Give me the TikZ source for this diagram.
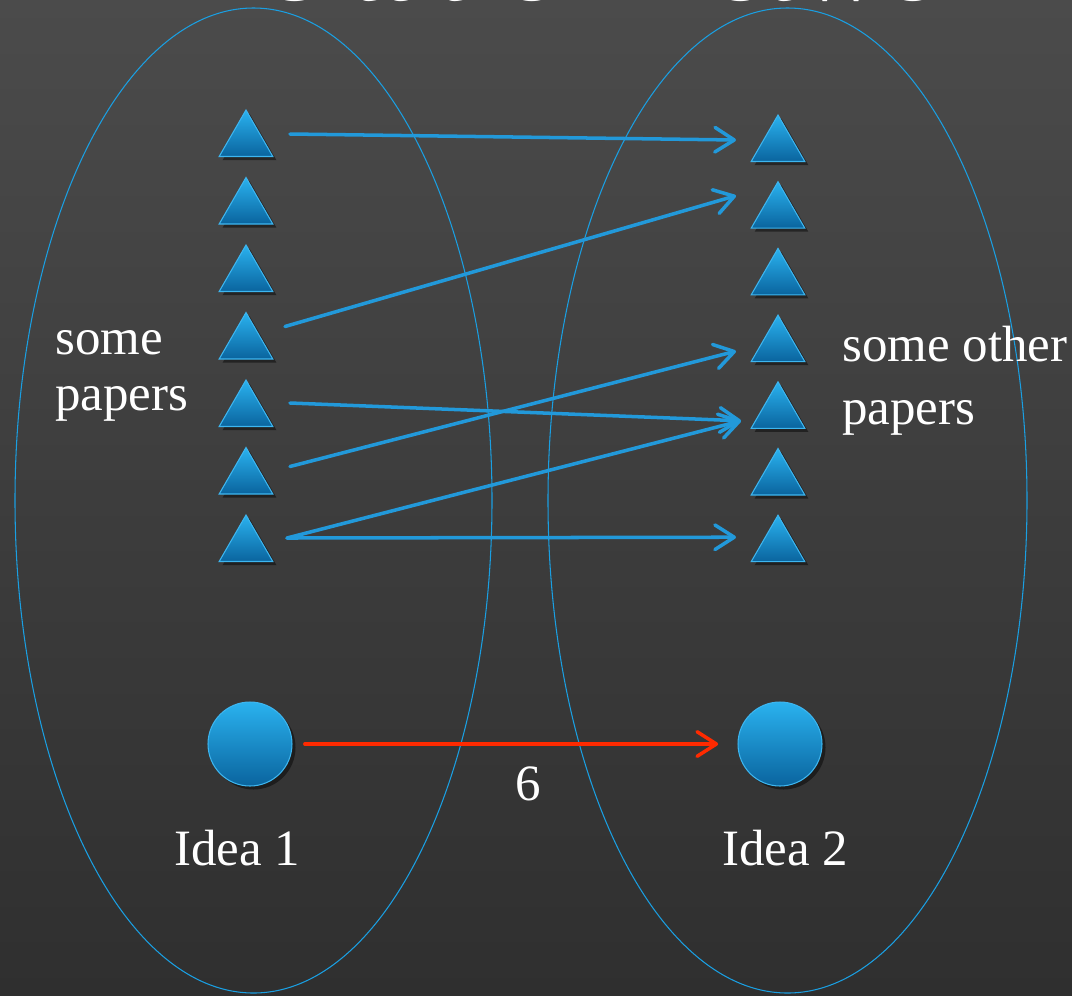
\documentclass[tikz,border=0pt]{standalone}
\usepackage{fontspec}
\setmainfont{Liberation Serif}
\usetikzlibrary{arrows.meta,shapes.geometric,positioning,calc,shadows}

\definecolor{bgtop}{HTML}{4B4B4B}
\definecolor{bgbot}{HTML}{2F2F2F}
\definecolor{ringblue}{HTML}{1A9FE2}
\definecolor{linkblue}{HTML}{2299DA}
\definecolor{paperhi}{HTML}{2AB2EF}
\definecolor{paperlo}{HTML}{0A649E}
\definecolor{paperrim}{HTML}{3DB6F0}
\definecolor{citered}{HTML}{FF2A00}

\tikzset{
  ring/.style={draw=ringblue, line width=0.6pt},
  paper/.style={regular polygon, regular polygon sides=3, minimum size=1.24cm, inner sep=0pt,
    draw=paperrim, line width=0.6pt, top color=paperhi, bottom color=paperlo,
    drop shadow={shadow xshift=2pt, shadow yshift=-2pt, opacity=0.45, fill=black}},
  idea/.style={circle, minimum size=1.68cm, inner sep=0pt,
    draw=paperrim, line width=0.6pt, top color=paperhi, bottom color=paperlo,
    drop shadow={shadow xshift=2pt, shadow yshift=-2pt, opacity=0.45, fill=black}},
  cite/.style={draw=linkblue, line width=2pt, line cap=round, -{Straight Barb[length=11pt,width=14pt,round]}},
  lbl/.style={text=white, inner sep=0pt, align=left},
}

\begin{document}
\begin{tikzpicture}[x=0.02cm, y=-0.02cm]
    \useasboundingbox (0,0) rectangle (1072,995);
    \clip (0,0) rectangle (1072,995);
    \shade[top color=bgtop, bottom color=bgbot] (0,0) rectangle (1072,995);

    % title, cut off by the top edge
    \node[text=white, inner sep=0pt, anchor=base west, font=\fontsize{68}{80}\selectfont] (title) at (263,0.5) {citation network};

    % the two sets
    \draw[ring] (253.5,500.5) ellipse [x radius=238.5, y radius=492.5];
    \draw[ring] (787.5,500.5) ellipse [x radius=239.5, y radius=492.5];

    % papers
    \foreach \i in {1,...,7} {
        \node[paper] (L\i) at (246,{141+67.5*(\i-1)}) {};
        \node[paper] (R\i) at (778,{146+66.7*(\i-1)}) {};
    }

    % citations
    \draw[cite] ($(L1)+(44,-7)$) -- ($(R1)+(-42,-6)$);
    \draw[cite] ($(L4)+(39,-17)$) -- ($(R2)+(-42,-17)$);
    \draw[cite] ($(L5)+(44,-8)$) -- ($(R5)+(-37,8)$);
    \draw[cite] ($(L6)+(44,-12)$) -- ($(R4)+(-42,5)$);
    \draw[cite] ($(L7)+(41,-8)$) -- ($(R5)+(-37,8)$);
    \draw[cite] ($(L7)+(41,-8)$) -- ($(R7)+(-42,-9)$);

    % ideas
    \node[idea] (I1) at (250,744) {};
    \node[idea] (I2) at (780,744) {};
    \draw[draw=citered, line width=2pt, line cap=round, -{Straight Barb[length=11pt,width=14pt,round]},
        shorten <=7pt, shorten >=11pt] (I1) -- node[lbl, pos=0.53, yshift=-0.8cm, font=\fontsize{29}{32}\selectfont] (count) {6} (I2);

    % labels
    \node[lbl, anchor=north west, font=\fontsize{29}{31.7}\selectfont] (leftlbl) at (55,330) {some\\papers};
    \node[lbl, anchor=north west, font=\fontsize{29}{35.7}\selectfont] (rightlbl) at (842,326) {some other\\papers};
    \node[lbl, font=\fontsize{29}{32}\selectfont] (idea1lbl) at (237,848) {Idea 1};
    \node[lbl, font=\fontsize{29}{32}\selectfont] (idea2lbl) at (785,848) {Idea 2};
\end{tikzpicture}
\end{document}
